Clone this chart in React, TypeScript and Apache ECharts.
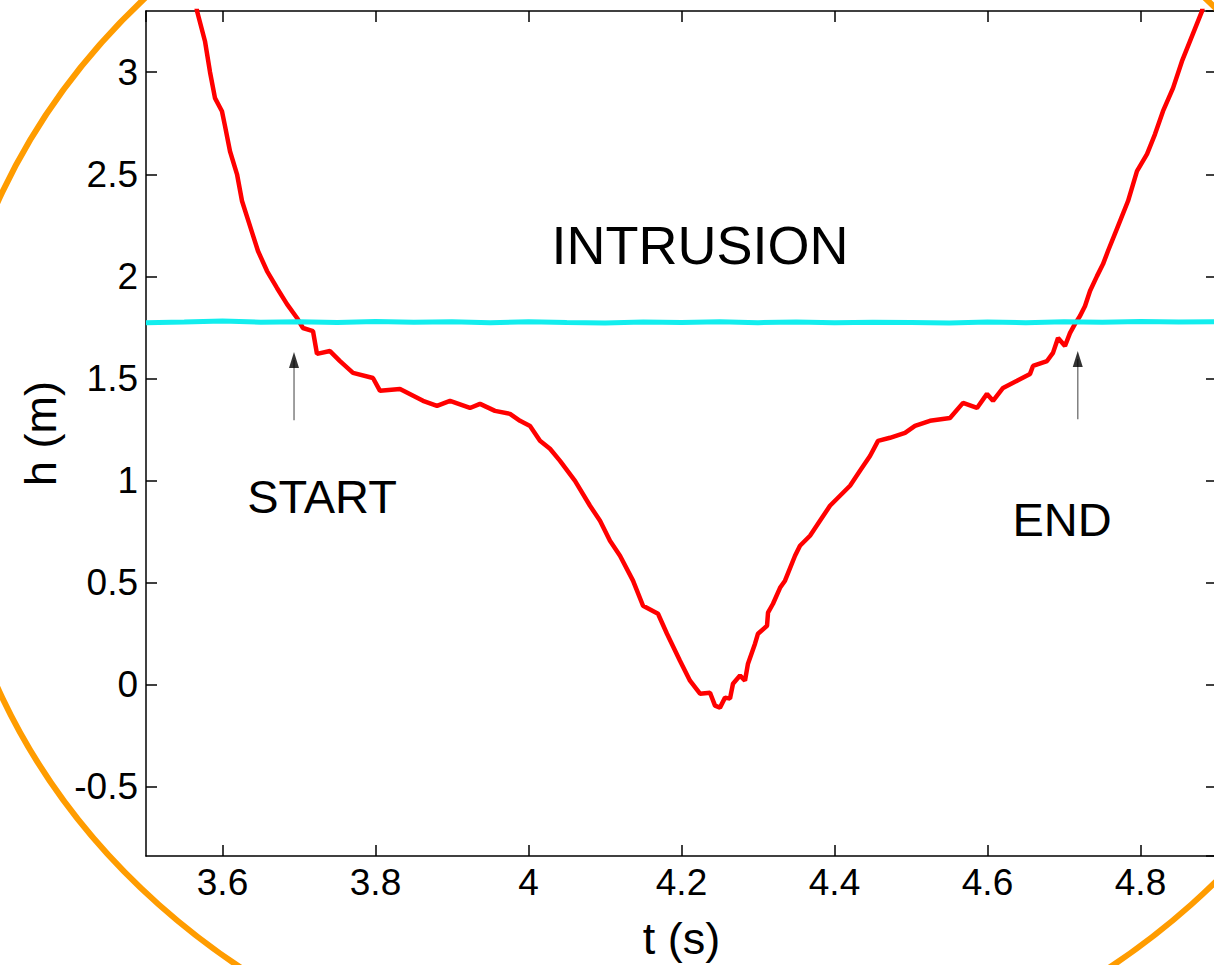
import React, { useEffect, useRef } from "react";
import * as echarts from "echarts";

const FONT = "'Liberation Sans', Arial, Helvetica, sans-serif";

// red curve: [t (s), h (m)]
const redCurve: [number, number][] = [
  [3.563, 3.4], [3.5667, 3.3], [3.5771, 3.152], [3.5837, 3.0], [3.5902, 2.873], [3.5993, 2.809],
  [3.6033, 2.736], [3.6098, 2.613], [3.619, 2.5], [3.6255, 2.369], [3.636, 2.246], [3.6464, 2.124],
  [3.6582, 2.026], [3.6712, 1.943], [3.6843, 1.864], [3.6974, 1.796], [3.7052, 1.747], [3.7183, 1.732],
  [3.7235, 1.62], [3.7405, 1.634], [3.7536, 1.585], [3.7706, 1.527], [3.7967, 1.502], [3.8059, 1.439],
  [3.832, 1.448], [3.8621, 1.39], [3.8804, 1.365], [3.8974, 1.39], [3.9235, 1.355], [3.9366, 1.375],
  [3.9562, 1.341], [3.9758, 1.326], [3.9889, 1.292], [4.002, 1.267], [4.015, 1.194], [4.0281, 1.155],
  [4.0412, 1.096], [4.0608, 0.998], [4.0804, 0.876], [4.0935, 0.802], [4.1065, 0.704], [4.1196, 0.631],
  [4.1366, 0.509], [4.1497, 0.386], [4.1693, 0.347], [4.181, 0.249], [4.198, 0.117], [4.2111, 0.019],
  [4.2242, -0.045], [4.2373, -0.04], [4.2438, -0.103], [4.2503, -0.113], [4.2569, -0.064], [4.2634, -0.069],
  [4.2673, 0.004], [4.2765, 0.044], [4.283, 0.019], [4.2869, 0.102], [4.2961, 0.2], [4.3, 0.249],
  [4.3118, 0.288], [4.3131, 0.352], [4.3196, 0.396], [4.3288, 0.474], [4.3353, 0.509], [4.3484, 0.631],
  [4.3549, 0.68], [4.368, 0.729], [4.381, 0.802], [4.3941, 0.876], [4.4072, 0.925], [4.4203, 0.974],
  [4.4333, 1.047], [4.4464, 1.12], [4.4569, 1.194], [4.4725, 1.209], [4.4922, 1.233], [4.5052, 1.267],
  [4.5248, 1.292], [4.551, 1.306], [4.568, 1.38], [4.5863, 1.355], [4.5993, 1.424], [4.6072, 1.39],
  [4.6203, 1.453], [4.6386, 1.488], [4.6556, 1.522], [4.6595, 1.561], [4.6778, 1.585], [4.6856, 1.625],
  [4.6922, 1.698], [4.7013, 1.659], [4.7078, 1.722], [4.7144, 1.767], [4.7209, 1.806], [4.7275, 1.855],
  [4.734, 1.928], [4.7431, 2.001], [4.751, 2.06], [4.7575, 2.124], [4.7706, 2.246], [4.7837, 2.369],
  [4.7954, 2.515], [4.8085, 2.599], [4.819, 2.697], [4.8294, 2.809], [4.8425, 2.922], [4.8542, 3.054],
  [4.8647, 3.152], [4.8804, 3.299], [4.885, 3.4],
];

// cyan threshold line
const cyanT = [3.5, 3.55, 3.6, 3.65, 3.7, 3.75, 3.8, 3.85, 3.9, 3.95, 4.0, 4.05, 4.1, 4.15, 4.2,
  4.25, 4.3, 4.35, 4.4, 4.45, 4.5, 4.55, 4.6, 4.65, 4.7, 4.75, 4.8, 4.85, 4.9];
const cyanH = [1.772, 1.776, 1.781, 1.775, 1.778, 1.774, 1.779, 1.775, 1.777, 1.773, 1.778, 1.774,
  1.771, 1.776, 1.774, 1.777, 1.773, 1.776, 1.772, 1.775, 1.774, 1.771, 1.776, 1.773, 1.777, 1.775,
  1.779, 1.776, 1.778];

// arrows (START / END)
const arrowT = [3.6935, 4.718];
const arrowBottom = [1.295, 1.3];
const arrowHead = [1.59, 1.595];

const xTicksRange = [3.5, 4.9];
const yTicksRange = [-0.84, 3.3];

const axisLineStyle = { color: "#000", width: 1.5 };

export default function App() {
  const ref = useRef<HTMLDivElement>(null);
  useEffect(() => {
    const chart = echarts.init(ref.current!, null, { renderer: "svg" });
    const baseX = {
      type: "value",
      min: xTicksRange[0],
      max: xTicksRange[1],
      splitNumber: 7,
      splitLine: { show: false },
      axisLine: { onZero: false, lineStyle: axisLineStyle },
      axisTick: { inside: true, length: 11, lineStyle: axisLineStyle },
    };
    const baseY = {
      type: "value",
      min: yTicksRange[0],
      max: yTicksRange[1],
      splitNumber: 8,
      splitLine: { show: false },
      axisLine: { onZero: false, lineStyle: axisLineStyle },
      axisTick: { inside: true, length: 11, lineStyle: axisLineStyle },
    };
    const arrowSeries: any[] = [];
    arrowT.forEach((t, i) => {
      arrowSeries.push({
        type: "line",
        data: [[t, arrowBottom[i]], [t, arrowHead[i]]],
        symbol: "none",
        lineStyle: { color: "#808080", width: 1.5 },
        silent: true,
        z: 5,
      });
    });
    arrowSeries.push({
      type: "scatter",
      data: arrowT.map((t, i) => [t, arrowHead[i]]),
      symbol: "triangle",
      symbolSize: [10, 16],
      itemStyle: { color: "#000" },
      silent: true,
      z: 6,
    });
    chart.setOption({
      animation: false,
      backgroundColor: "#fff",
      grid: { left: 146, top: 11, width: 1071, height: 845, outerBoundsMode: "none" },
      xAxis: [
        {
          ...baseX,
          position: "bottom",
          name: "t (s)",
          nameLocation: "middle",
          nameGap: 60,
          nameTextStyle: { fontSize: 45, color: "#000", fontFamily: FONT },
          axisLabel: {
            fontSize: 37, color: "#000", fontFamily: FONT, margin: 8,
            showMinLabel: false, showMaxLabel: false,
          },
        },
        { ...baseX, position: "top", axisLabel: { show: false } },
      ],
      yAxis: [
        {
          ...baseY,
          position: "left",
          name: "h (m)",
          nameLocation: "middle",
          nameGap: 80,
          nameTextStyle: { fontSize: 45, color: "#000", fontFamily: FONT },
          axisLabel: {
            fontSize: 37, color: "#000", fontFamily: FONT, margin: 8,
            showMinLabel: false, showMaxLabel: false,
          },
        },
        { ...baseY, position: "right", axisLabel: { show: false } },
      ],
      series: [
        {
          type: "line",
          data: redCurve,
          symbol: "none",
          lineStyle: { color: "#FF0000", width: 4.5 },
          clip: true,
          z: 3,
        },
        {
          type: "line",
          data: cyanT.map((t, i) => [t, cyanH[i]]),
          symbol: "none",
          lineStyle: { color: "#12EEEE", width: 5 },
          clip: true,
          z: 4,
        },
        ...arrowSeries,
      ],
      graphic: [
        {
          type: "ellipse",
          shape: { cx: 675, cy: 445, rx: 730, ry: 650 },
          style: { fill: "none", stroke: "#FF9C00", lineWidth: 6 },
          silent: true,
          z: 100,
        },
        {
          type: "text",
          x: 700, y: 245,
          style: { text: "INTRUSION", fontSize: 54, fontFamily: FONT, fill: "#000", textAlign: "center", textVerticalAlign: "middle" },
          z: 50,
        },
        {
          type: "text",
          x: 322, y: 496,
          style: { text: "START", fontSize: 47, fontFamily: FONT, fill: "#000", textAlign: "center", textVerticalAlign: "middle" },
          z: 50,
        },
        {
          type: "text",
          x: 1062, y: 519,
          style: { text: "END", fontSize: 47, fontFamily: FONT, fill: "#000", textAlign: "center", textVerticalAlign: "middle" },
          z: 50,
        },
      ],
    });
    return () => chart.dispose();
  }, []);
  return (
    <div
      ref={ref}
      style={{ position: "absolute", left: 0, top: 0, width: 1214, height: 965, background: "#fff" }}
    />
  );
}
